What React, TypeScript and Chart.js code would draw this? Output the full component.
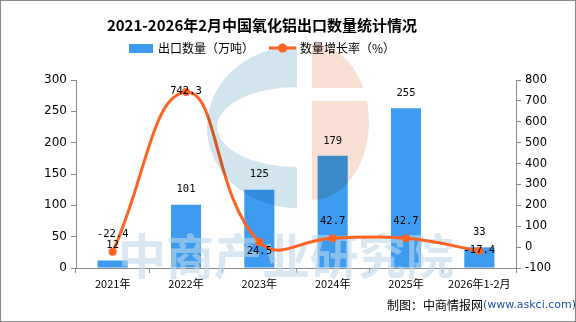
import React, { useEffect, useRef } from 'react';
import { Chart, registerables } from 'chart.js';

Chart.register(...registerables);

const title = '2021-2026年2月中国氧化铝出口数量统计情况';
const categories = ['2021年', '2022年', '2023年', '2024年', '2025年', '2026年1-2月'];
const exportVolume = [12, 101, 125, 179, 255, 33];
const growthRate = [-22.4, 742.3, 24.5, 42.7, 42.7, -17.4];
const volumeLabel = '出口数量（万吨）';
const rateLabel = '数量增长率（%）';
const leftRange = [0, 300, 50];
const rightRange = [-100, 800, 100];
const sourceText = '制图：中商情报网';
const sourceUrl = '(www.askci.com)';

const BAR_COLOR = '#3d9cf0';
const LINE_COLOR = '#ff6221';
const rateLabelOffsets = [-18, -1, 9, -17, -17, 0];

const decorPlugin = {
  id: 'decor',
  beforeDraw(chart: any) {
    const ctx = chart.ctx;
    ctx.save();
    ctx.fillStyle = '#ffffff';
    ctx.fillRect(0, 0, chart.width, chart.height);
    ctx.restore();
  },
  afterDatasetDraw(chart: any, args: any) {
    if (args.index !== 0) return;
    const ctx = chart.ctx;
    ctx.save();
    ctx.font = 'bold 48px "Noto Sans CJK SC"';
    ctx.fillStyle = 'rgba(190,215,232,0.6)';
    ctx.textBaseline = 'middle';
    ctx.textAlign = 'left';
    ctx.fillText('中商产业研究院', 118, 256);
    ctx.restore();
  },
  afterDatasetsDraw(chart: any) {
    const ctx = chart.ctx;
    ctx.save();
    ctx.globalCompositeOperation = 'multiply';
    // blue C
    ctx.fillStyle = 'rgb(210,228,238)';
    ctx.beginPath();
    ctx.ellipse(297, 127, 90, 81, 0, Math.PI / 2, Math.PI * 1.5);
    ctx.closePath();
    ctx.ellipse(297, 127, 80, 40, 0, Math.PI / 2, Math.PI * 1.5);
    ctx.closePath();
    ctx.fill('evenodd');
    // pink half
    ctx.save();
    ctx.beginPath();
    ctx.rect(312, 0, 120, 88);
    ctx.rect(312, 101, 120, 200);
    ctx.clip();
    ctx.fillStyle = 'rgb(250,224,212)';
    ctx.beginPath();
    ctx.ellipse(312, 122, 57, 78, 0, -Math.PI / 2, Math.PI / 2);
    ctx.closePath();
    ctx.fill();
    ctx.restore();
    ctx.restore();
  },
  afterDraw(chart: any) {
    const ctx = chart.ctx;
    ctx.save();
    // title
    ctx.fillStyle = '#000';
    ctx.font = 'bold 15px "Noto Sans CJK SC"';
    ctx.textAlign = 'center';
    ctx.textBaseline = 'middle';
    ctx.fillText(title, 262, 25);

    // legend
    ctx.font = '12px "Noto Sans CJK SC"';
    ctx.textAlign = 'left';
    ctx.fillStyle = BAR_COLOR;
    ctx.fillRect(129, 44, 24, 9);
    ctx.fillStyle = '#000';
    ctx.fillText(volumeLabel, 158, 48);
    ctx.strokeStyle = LINE_COLOR;
    ctx.lineWidth = 3;
    ctx.beginPath();
    ctx.moveTo(269, 48);
    ctx.lineTo(296, 48);
    ctx.stroke();
    ctx.fillStyle = LINE_COLOR;
    ctx.beginPath();
    ctx.arc(282.5, 48, 4.5, 0, Math.PI * 2);
    ctx.fill();
    ctx.fillStyle = '#000';
    ctx.fillText(rateLabel, 300, 48);

    // data labels
    ctx.font = '10.5px "DejaVu Sans Mono"';
    ctx.textAlign = 'center';
    ctx.textBaseline = 'middle';
    ctx.fillStyle = '#000';
    const barMeta = chart.getDatasetMeta(0);
    barMeta.data.forEach((el: any, i: number) => {
      ctx.fillText(String(exportVolume[i]), el.x, el.y - 15);
    });
    const lineMeta = chart.getDatasetMeta(1);
    lineMeta.data.forEach((el: any, i: number) => {
      ctx.fillText(String(growthRate[i]), el.x, el.y + rateLabelOffsets[i]);
    });

    // source
    ctx.textAlign = 'left';
    ctx.font = '12px "Noto Sans CJK SC"';
    ctx.fillStyle = '#000';
    ctx.fillText(sourceText, 387, 305);
    const w = ctx.measureText(sourceText).width;
    ctx.font = '11px "DejaVu Sans"';
    ctx.fillStyle = '#1f4fa5';
    ctx.fillText(sourceUrl, 387 + w, 305);
    ctx.restore();
  },
};

export default function App() {
  const ref = useRef<HTMLCanvasElement | null>(null);
  useEffect(() => {
    document.body.style.margin = '0';
    if (!ref.current) return;
    const chart = new Chart(ref.current, {
      type: 'bar',
      data: {
        labels: categories,
        datasets: [
          {
            type: 'bar',
            label: volumeLabel,
            data: exportVolume,
            backgroundColor: BAR_COLOR,
            yAxisID: 'y',
            order: 1,
            barPercentage: 0.41,
            categoryPercentage: 1,
          },
          {
            type: 'line',
            label: rateLabel,
            data: growthRate,
            borderColor: LINE_COLOR,
            backgroundColor: LINE_COLOR,
            borderWidth: 3,
            pointRadius: 4,
            pointBackgroundColor: LINE_COLOR,
            pointBorderWidth: 0,
            tension: 0.45,
            yAxisID: 'y1',
            order: 0,
          },
        ],
      } as any,
      options: {
        responsive: false,
        animation: false,
        layout: { padding: { top: 80, left: 0, right: 0, bottom: 0 } },
        plugins: {
          legend: { display: false },
          title: { display: false },
          tooltip: { enabled: false },
        },
        scales: {
          x: {
            grid: { display: true, drawOnChartArea: false, drawTicks: true, tickLength: 5, color: '#888', offset: true },
            border: { color: '#888' },
            ticks: { color: '#000', font: { family: 'Noto Sans CJK SC', size: 11 }, padding: 4, maxRotation: 0, autoSkip: false },
            afterFit(scale: any) { scale.height = 54; },
          },
          y: {
            position: 'left',
            min: leftRange[0],
            max: leftRange[1],
            ticks: { stepSize: leftRange[2], color: '#000', font: { family: 'DejaVu Sans', size: 12 }, padding: 4 },
            grid: { display: true, drawOnChartArea: false, drawTicks: true, tickLength: 5, color: '#888' },
            border: { color: '#888' },
            afterFit(scale: any) { scale.width = 76; },
          },
          y1: {
            position: 'right',
            min: rightRange[0],
            max: rightRange[1],
            ticks: { stepSize: rightRange[2], color: '#000', font: { family: 'DejaVu Sans', size: 11.5 }, padding: 4 },
            grid: { display: true, drawOnChartArea: false, drawTicks: true, tickLength: 5, color: '#888' },
            border: { color: '#888' },
            afterFit(scale: any) { scale.width = 60; },
          },
        },
      } as any,
      plugins: [decorPlugin],
    });
    return () => chart.destroy();
  }, []);
  return (
    <div style={{ position: 'relative', width: 576, height: 322 }}>
      <canvas ref={ref} width={576} height={322} style={{ display: 'block', width: 576, height: 322 }} />
      <div style={{ position: 'absolute', inset: 0, border: '1px solid #888', boxSizing: 'border-box', pointerEvents: 'none' }} />
    </div>
  );
}
